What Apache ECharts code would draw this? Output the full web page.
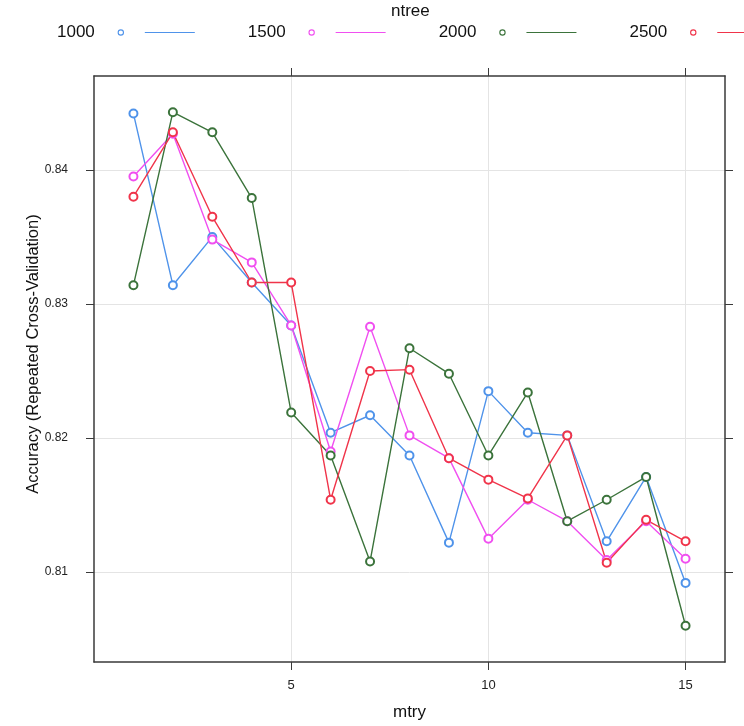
<!DOCTYPE html>
<html>
<head>
<meta charset="utf-8">
<script src="https://cdn.jsdelivr.net/npm/echarts@6/dist/echarts.min.js"></script>
<style>
  html, body { margin: 0; padding: 0; background: #fff; }
  #chart { width: 744px; height: 726px; }
</style>
</head>
<body>
<div id="chart"></div>
<script>
const mtry = [1, 2, 3, 4, 5, 6, 7, 8, 9, 10, 11, 12, 13, 14, 15];
const ntreeNames = ["1000", "1500", "2000", "2500"];
const acc1000 = [0.8442, 0.8314, 0.8350, 0.8316, 0.8284, 0.8204, 0.8217, 0.8187, 0.8122, 0.8235, 0.8204, 0.8202, 0.8123, 0.8171, 0.8092];
const acc1500 = [0.8395, 0.8427, 0.8348, 0.8331, 0.8284, 0.8190, 0.8283, 0.8202, 0.8185, 0.8125, 0.8154, 0.8138, 0.8109, 0.8138, 0.8110];
const acc2000 = [0.8314, 0.8443, 0.8428, 0.8379, 0.8219, 0.8187, 0.8108, 0.8267, 0.8248, 0.8187, 0.8234, 0.8138, 0.8154, 0.8171, 0.8060];
const acc2500 = [0.8380, 0.8428, 0.8365, 0.8316, 0.8316, 0.8154, 0.8250, 0.8251, 0.8185, 0.8169, 0.8155, 0.8202, 0.8107, 0.8139, 0.8123];
const xTicks = [5, 10, 15];
const yTicks = [0.81, 0.82, 0.83, 0.84];

const colors = ["#4f93ea", "#f04ff0", "#3b733b", "#f0344a"];
const allAcc = [acc1000, acc1500, acc2000, acc2500];

// legend key: open circle then a short line (blank moveTo keeps room before the circle)
const keyIcon = "path://M-18,0 M-18,8 M-0.2,4 A3.2,3.2 0 1,1 6.2,4 A3.2,3.2 0 1,1 -0.2,4 Z " +
  "M0.9,4 A2.1,2.1 0 1,0 5.1,4 A2.1,2.1 0 1,0 0.9,4 Z M27,3.4 L77,3.4 L77,4.6 L27,4.6 Z";

const font = "Liberation Sans";
const boxLine = { show: true, onZero: false, lineStyle: { color: "#3a3a3a", width: 1.5 } };
const grid = { color: "#e4e4e4", width: 1 };

const chart = echarts.init(document.getElementById("chart"));

const series = ntreeNames.map((name, i) => ({
  name: name,
  type: "line",
  xAxisIndex: 0,
  yAxisIndex: 0,
  data: mtry.map((m, j) => [m, allAcc[i][j]]),
  symbol: "emptyCircle",
  symbolSize: 8,
  color: colors[i],
  lineStyle: { color: colors[i], width: 1.4 },
  itemStyle: { color: colors[i], borderWidth: 1.2 },
  emphasis: { disabled: true },
}));

chart.setOption({
  animation: false,
  textStyle: { fontFamily: font },
  title: {
    text: "ntree",
    left: 391,
    top: 3,
    padding: 0,
    textStyle: { fontSize: 17, fontWeight: "normal", color: "#111", fontFamily: font },
  },
  legend: {
    data: ntreeNames,
    left: 57,
    top: 24,
    width: 740,
    padding: 0,
    align: "right",
    icon: keyIcon,
    itemWidth: 95,
    itemHeight: 8,
    itemGap: 53,
    selectedMode: false,
    itemStyle: { borderWidth: 0 },
    textStyle: { fontSize: 17, color: "#111", fontFamily: font },
  },
  grid: { left: 94, right: 19, top: 76, bottom: 63 },
  xAxis: [
    {
      type: "value",
      min: 0,
      max: 16,
      name: "mtry",
      nameLocation: "middle",
      nameGap: 42,
      nameMoveOverlap: false,
      nameTextStyle: { fontSize: 17, color: "#111" },
      axisLine: boxLine,
      axisTick: { show: true, length: 8, customValues: xTicks, lineStyle: { color: "#3a3a3a" } },
      axisLabel: { customValues: xTicks, fontSize: 13, color: "#222", margin: 17 },
      splitLine: { show: true, lineStyle: grid },
    },
    {
      type: "value",
      position: "top",
      min: 0,
      max: 16,
      axisLine: boxLine,
      axisTick: { show: true, length: 8, customValues: xTicks, lineStyle: { color: "#3a3a3a" } },
      axisLabel: { show: false },
      splitLine: { show: false },
    },
  ],
  yAxis: [
    {
      type: "value",
      min: 0.8033,
      max: 0.8470,
      name: "Accuracy (Repeated Cross-Validation)",
      nameLocation: "middle",
      nameGap: 52,
      nameMoveOverlap: false,
      nameTextStyle: { fontSize: 16.5, color: "#111", padding: [0, 0, 0, 30] },
      axisLine: boxLine,
      axisTick: { show: true, length: 8, customValues: yTicks, lineStyle: { color: "#3a3a3a" } },
      axisLabel: {
        customValues: yTicks,
        fontSize: 12,
        color: "#222",
        margin: 26,
        formatter: (v) => v.toFixed(2),
      },
      splitLine: { show: true, lineStyle: grid },
    },
    {
      type: "value",
      position: "right",
      min: 0.8033,
      max: 0.8470,
      axisLine: boxLine,
      axisTick: { show: true, length: 8, customValues: yTicks, lineStyle: { color: "#3a3a3a" } },
      axisLabel: { show: false },
      splitLine: { show: false },
    },
  ],
  series: series,
});
</script>
</body>
</html>
